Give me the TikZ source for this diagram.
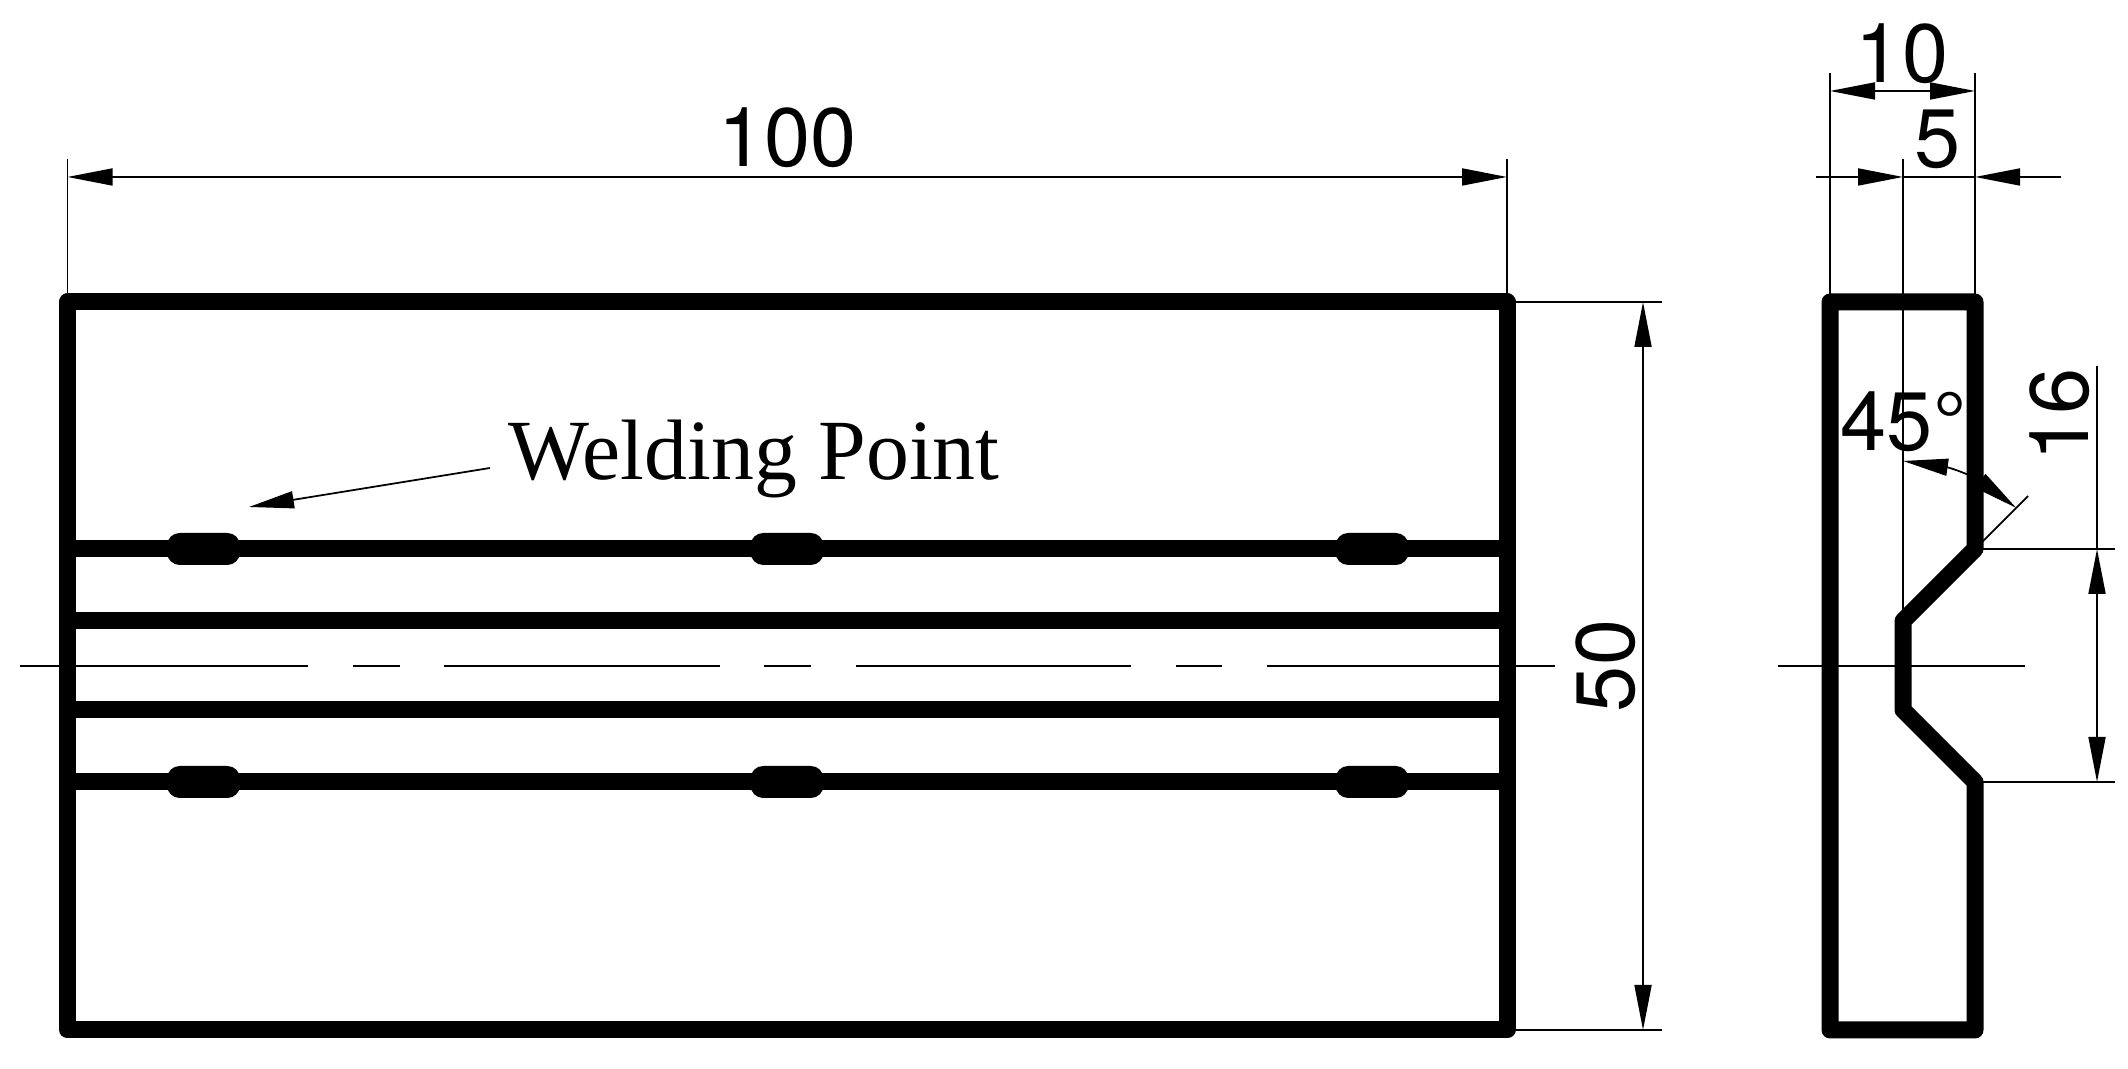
\documentclass[tikz,border=0pt]{standalone}
\usepackage{fontspec}
\setmainfont{TeX Gyre Heros}
\newfontfamily\weldface{Liberation Serif}
\usetikzlibrary{arrows.meta, bending}
\tikzset{%
    sec/.style={line width = 0.5pt},
    seca/.style={line width = 0.5pt, -{Triangle[length=4.5mm,width=1.7mm]}},
    secda/.style={line width = 0.5pt, {Triangle[length=4.5mm,width=1.7mm]}-{Triangle[length=4.5mm,width=1.7mm]}},
    pri/.style={line width = 4.84pt, line join=round},
    dimtxt/.style={font=\fontsize{23.6}{24}\selectfont, inner sep=0pt, anchor=base},
    weldtxt/.style={font=\weldface\fontsize{24.4}{25}\selectfont, inner sep=0pt, anchor=base west},
    weldblo/.style={rectangle, fill=black, rounded corners=3.6pt, minimum width=0.73cm, minimum height=0.32cm, inner sep=0pt},
}
\begin{document}
\begin{tikzpicture}
    \useasboundingbox (0,0) rectangle (21.28,10.69);
    % center lines
    \draw [sec](0.20,4.03)--(3.08,4.03) (3.53,4.03)--(4.00,4.03) (4.44,4.03)--(7.20,4.03) (7.64,4.03)--(8.11,4.03)
        (8.56,4.03)--(11.31,4.03) (11.76,4.03)--(12.22,4.03) (12.67,4.03)--(15.55,4.03);
    \draw [sec](17.78,4.03)--(20.25,4.03);
    % front view
    \draw [pri](0.675,0.39) rectangle (15.07,7.67);
    \draw [pri](0.675,5.20)--(15.07,5.20) (0.675,4.48)--(15.07,4.48) (0.675,3.59)--(15.07,3.59) (0.675,2.87)--(15.07,2.87);
    \foreach \i/\xw in {1/2.035,2/7.87,3/13.72}{
        \node [weldblo] (wu\i) at (\xw,5.20) {};
        \node [weldblo] (wd\i) at (\xw,2.87) {};
    }
    % side view
    \draw [pri](18.30,7.67)--(19.75,7.67)--(19.75,5.20)--(19.03,4.48)--(19.03,3.59)--(19.75,2.87)--(19.75,0.39)--(18.30,0.39)--cycle;
    % dimensions, front view
    \draw [sec](0.675,9.10)--(0.675,7.67) (15.07,9.10)--(15.07,7.67);
    \draw [secda](0.675,8.92)--(15.07,8.92);
    \draw [sec](15.07,7.67)--(16.62,7.67) (15.07,0.39)--(16.62,0.39);
    \draw [secda](16.43,7.67)--(16.43,0.39);
    \node [dimtxt] (l100) at (7.875,9.02) {100};
    \node [dimtxt,rotate=90] (l50) at (16.34,4.03) {50};
    % dimensions, side view
    \draw [sec](18.30,9.96)--(18.30,7.67) (19.75,9.96)--(19.75,7.67);
    \draw [secda](18.30,9.78)--(19.75,9.78);
    \draw [sec](19.03,9.10)--(19.03,4.59);
    \draw [sec](19.03,8.92)--(19.75,8.92);
    \draw [seca](18.16,8.92)--(19.03,8.92);
    \draw [seca](20.61,8.92)--(19.75,8.92);
    \draw [sec](19.75,5.20)--(21.15,5.20) (19.75,2.87)--(21.15,2.87);
    \draw [sec](20.97,7.03)--(20.97,5.20);
    \draw [secda](20.97,5.20)--(20.97,2.87);
    \draw [sec](19.75,5.20)--(20.28,5.73);
    \draw [secda](19.03,6.08) arc (90:45:1.6);
    \node [dimtxt] (l10) at (19.02,9.86) {10};
    \node [dimtxt] (l5) at (19.38,9.01) {5};
    \node [dimtxt] (l45) at (19.035,6.18) {45°};
    \node [dimtxt,rotate=90] (l16) at (20.88,6.54) {16};
    % welding label
    \node [weldtxt] (lweld) at (5.08,5.89) {Welding Point};
    \coordinate (wa) at (4.90,6.01);
    \coordinate (wb) at (2.49,5.62);
    \draw [seca](wa)--(wb);
\end{tikzpicture}
\end{document}
